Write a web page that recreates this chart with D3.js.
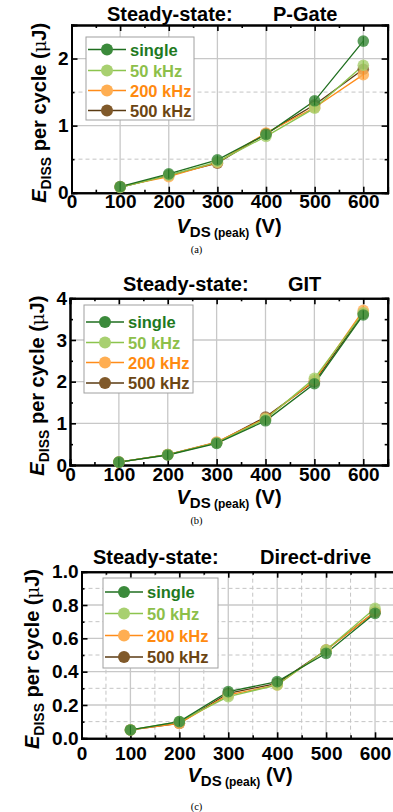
<!DOCTYPE html>
<html><head><meta charset="utf-8">
<script src="https://cdn.jsdelivr.net/npm/d3@7"></script>
<style>
html,body{margin:0;padding:0;background:#fff;}
svg{display:block;font-family:"Liberation Sans",Arial,sans-serif;}
</style></head>
<body><svg id="c" width="393" height="812"></svg>
<script>
const voltages = [100, 200, 300, 400, 500, 600];
const seriesNames = ["single", "50 kHz", "200 kHz", "500 kHz"];
const xTicks = [0, 100, 200, 300, 400, 500, 600];

const pgateSingle = [0.09, 0.28, 0.49, 0.87, 1.37, 2.26];
const pgate50k    = [0.08, 0.26, 0.46, 0.84, 1.26, 1.90];
const pgate200k   = [0.09, 0.24, 0.45, 0.89, 1.27, 1.76];
const pgate500k   = [0.08, 0.26, 0.44, 0.88, 1.31, 1.84];
const pgateYTicks = [0, 1, 2];

const gitSingle = [0.07, 0.24, 0.52, 1.06, 1.95, 3.60];
const git50k    = [0.07, 0.25, 0.53, 1.10, 2.08, 3.65];
const git200k   = [0.07, 0.25, 0.55, 1.12, 2.03, 3.71];
const git500k   = [0.07, 0.25, 0.54, 1.15, 2.00, 3.64];
const gitYTicks = [0, 1, 2, 3, 4];

const ddSingle = [0.05, 0.10, 0.28, 0.34, 0.51, 0.75];
const dd50k    = [0.05, 0.10, 0.25, 0.32, 0.53, 0.78];
const dd200k   = [0.05, 0.09, 0.26, 0.32, 0.53, 0.76];
const dd500k   = [0.05, 0.09, 0.27, 0.33, 0.53, 0.76];
const ddYTicks = [0, 0.2, 0.4, 0.6, 0.8, 1.0];

const markerColors = ["#3b8a3b", "#a8d070", "#ffae52", "#80592a"];
const lineColors   = ["#1f6e1f", "#8cc44e", "#ff8c1a", "#5a3a12"];
const textColors   = ["#1f7a1f", "#8dbf4a", "#ff8a10", "#6b4512"];

const svg = d3.select("#c");

function panel(o) {
  const g = svg.append("g");
  const x = d3.scaleLinear().domain([0, 650]).range([o.left, o.right]);
  const y = d3.scaleLinear().domain([0, o.ymax]).range([o.bottom, o.top]);
  const clipId = "clip" + o.tag;
  g.append("clipPath").attr("id", clipId).append("rect")
    .attr("x", o.left).attr("y", o.top).attr("width", o.right - o.left).attr("height", o.bottom - o.top);

  const grid = g.append("g").attr("clip-path", `url(#${clipId})`);
  grid.selectAll(".hy").data(o.yDash).join("line")
    .attr("x1", o.left).attr("x2", o.right).attr("y1", d => y(d)).attr("y2", d => y(d))
    .attr("stroke", "#c4c4c4").attr("stroke-width", 1).attr("stroke-dasharray", "4,3");
  grid.selectAll(".vx").data(o.xDash).join("line")
    .attr("y1", o.top).attr("y2", o.bottom).attr("x1", d => x(d)).attr("x2", d => x(d))
    .attr("stroke", "#c4c4c4").attr("stroke-width", 1).attr("stroke-dasharray", "4,3");
  grid.selectAll(".hs").data(o.yTicks.filter(d => d > 0 && d < o.ymax)).join("line")
    .attr("x1", o.left).attr("x2", o.right).attr("y1", d => y(d)).attr("y2", d => y(d))
    .attr("stroke", "#c8c8c8").attr("stroke-width", 1.3);
  grid.selectAll(".vs").data(xTicks.filter(d => d > 0)).join("line")
    .attr("y1", o.top).attr("y2", o.bottom).attr("x1", d => x(d)).attr("x2", d => x(d))
    .attr("stroke", "#c8c8c8").attr("stroke-width", 1.3);

  const fmt = o.fmt;
  g.append("g").attr("transform", `translate(${o.left},0)`)
    .call(d3.axisLeft(y).tickValues(o.yTicks).tickSize(-6).tickPadding(3).tickFormat(fmt));
  g.append("g").attr("transform", `translate(0,${o.bottom})`)
    .call(d3.axisBottom(x).tickValues(xTicks).tickSize(-6).tickPadding(o.xPad).tickFormat(d3.format("d")));
  g.append("g").attr("transform", `translate(${o.right},0)`)
    .call(d3.axisRight(y).tickValues(o.yTicks).tickSize(-6).tickFormat(""));
  g.append("g").attr("transform", `translate(0,${o.top})`)
    .call(d3.axisTop(x).tickValues(xTicks).tickSize(-6).tickFormat(""));
  g.append("g").attr("transform", `translate(${o.left},0)`)
    .call(d3.axisLeft(y).tickValues(o.yMinor).tickSize(-3).tickFormat(""));
  g.append("g").attr("transform", `translate(${o.right},0)`)
    .call(d3.axisRight(y).tickValues(o.yMinor).tickSize(-3).tickFormat(""));
  g.append("g").attr("transform", `translate(0,${o.bottom})`)
    .call(d3.axisBottom(x).tickValues(o.xMinor).tickSize(-3).tickFormat(""));
  g.append("g").attr("transform", `translate(0,${o.top})`)
    .call(d3.axisTop(x).tickValues(o.xMinor).tickSize(-3).tickFormat(""));
  g.selectAll(".domain").attr("stroke", "#000").attr("stroke-width", 2);
  g.selectAll(".tick line").attr("stroke", "#000").attr("stroke-width", 1.6);
  g.selectAll(".tick text").attr("font-size", 19).attr("font-weight", "bold")
    .attr("font-family", "'Liberation Sans',Arial,sans-serif").attr("fill", "#000");

  const data = g.append("g");
  const order = [3, 2, 1, 0];
  const line = d3.line().x((d, i) => x(voltages[i])).y(d => y(d));
  order.forEach(k => {
    data.append("path").datum(o.series[k]).attr("d", line)
      .attr("fill", "none").attr("stroke", lineColors[k]).attr("stroke-width", 1.3);
  });
  order.forEach(k => {
    const s = data.append("g");
    s.selectAll("circle").data(o.series[k]).join("circle")
      .attr("cx", (d, i) => x(voltages[i])).attr("cy", d => y(d)).attr("r", 5.8)
      .attr("fill", markerColors[k]).attr("fill-opacity", 0.82);
    s.selectAll("line").data(o.series[k]).join("line")
      .attr("x1", (d, i) => x(voltages[i])).attr("x2", (d, i) => x(voltages[i]))
      .attr("y1", d => y(d) - 4.5).attr("y2", d => y(d) + 4.5)
      .attr("stroke", lineColors[k]).attr("stroke-width", 1);
  });

  const L = o.legend;
  g.append("rect").attr("x", L.x).attr("y", L.y).attr("width", L.w).attr("height", L.h)
    .attr("fill", "#fff").attr("stroke", "#a0a0a0").attr("stroke-width", 1);
  seriesNames.forEach((name, k) => {
    const ry = L.rows[k];
    g.append("line").attr("x1", L.x + 2).attr("x2", L.x + 40).attr("y1", ry).attr("y2", ry)
      .attr("stroke", lineColors[k]).attr("stroke-width", 1.3);
    g.append("circle").attr("cx", L.x + 21).attr("cy", ry).attr("r", 6)
      .attr("fill", markerColors[k]);
    g.append("text").attr("x", L.x + 44).attr("y", ry + 6).text(name)
      .attr("font-size", 16.5).attr("font-weight", "bold").attr("fill", textColors[k]);
  });

  g.append("text").attr("x", o.t1x).attr("y", o.titleY).text("Steady-state:")
    .attr("font-size", 20).attr("font-weight", "bold");
  g.append("text").attr("x", o.t2x).attr("y", o.titleY).text(o.title)
    .attr("font-size", 20).attr("font-weight", "bold");

  const yl = g.append("text")
    .attr("transform", `translate(${o.ylx},${(o.top + o.bottom) / 2 + 4}) rotate(-90)`)
    .attr("text-anchor", "middle").attr("font-size", 20).attr("font-weight", "bold");
  yl.append("tspan").text("E").attr("font-style", "italic");
  yl.append("tspan").text("DISS").attr("font-size", 14).attr("dy", 5);
  yl.append("tspan").text(" per cycle (").attr("dy", -5);
  yl.append("tspan").text("μ").attr("font-weight", "normal").attr("font-family", "'DejaVu Serif',serif").attr("font-size", 18);
  yl.append("tspan").text("J)");

  const xl = g.append("text").attr("x", o.xlx).attr("y", o.xly)
    .attr("text-anchor", "middle").attr("font-size", 20).attr("font-weight", "bold");
  xl.append("tspan").text("V").attr("font-style", "italic");
  xl.append("tspan").text("DS").attr("font-size", 15).attr("dy", 4);
  xl.append("tspan").text(" (peak)").attr("font-size", 12);
  xl.append("tspan").text(" (V)").attr("dy", -4);

  g.append("text").attr("x", 196.5).attr("y", o.capY).attr("text-anchor", "middle")
    .attr("font-family", "'Liberation Serif','Times New Roman',serif").attr("font-size", 10.5)
    .text(o.cap);
}

panel({
  tag: "a", left: 71.5, right: 387.6, top: 25, bottom: 192.7, ymax: 2.5, xPad: 2.3,
  yTicks: pgateYTicks, yMinor: [0.5, 1.5], xMinor: [50, 150, 250, 350, 450, 550, 650],
  yDash: [0.5, 1.5], xDash: [], fmt: d3.format("d"),
  series: [pgateSingle, pgate50k, pgate200k, pgate500k],
  legend: { x: 86, y: 37, w: 108, h: 83, rows: [49.5, 70.5, 90.5, 110.5] },
  t1x: 107, t2x: 273, titleY: 21, title: "P-Gate",
  ylx: 46, xlx: 229, xly: 233, capY: 253, cap: "(a)"
});

panel({
  tag: "b", left: 70, right: 387.7, top: 298.3, bottom: 465, ymax: 4, xPad: 2.2,
  yTicks: gitYTicks, yMinor: [0.5, 1.5, 2.5, 3.5], xMinor: [50, 150, 250, 350, 450, 550, 650],
  yDash: [], xDash: [], fmt: d3.format("d"),
  series: [gitSingle, git50k, git200k, git500k],
  legend: { x: 84, y: 305, w: 109, h: 88, rows: [322, 342.5, 362.5, 383] },
  t1x: 123, t2x: 288, titleY: 291, title: "GIT",
  ylx: 44, xlx: 229, xly: 504, capY: 524, cap: "(b)"
});

panel({
  tag: "c", left: 81.5, right: 399.5, top: 571.7, bottom: 738.3, ymax: 1.0, xPad: 8,
  yTicks: ddYTicks, yMinor: [0.1, 0.3, 0.5, 0.7, 0.9], xMinor: [50, 150, 250, 350, 450, 550, 650],
  yDash: [0.1, 0.3, 0.5, 0.7, 0.9], xDash: [50, 150, 250, 350, 450, 550, 650], fmt: d3.format(".1f"),
  series: [ddSingle, dd50k, dd200k, dd500k],
  legend: { x: 103, y: 578, w: 115, h: 90, rows: [592, 613.5, 635.5, 657] },
  t1x: 93, t2x: 260, titleY: 564, title: "Direct-drive",
  ylx: 39, xlx: 240, xly: 782, capY: 809.5, cap: "(c)"
});
</script></body></html>
